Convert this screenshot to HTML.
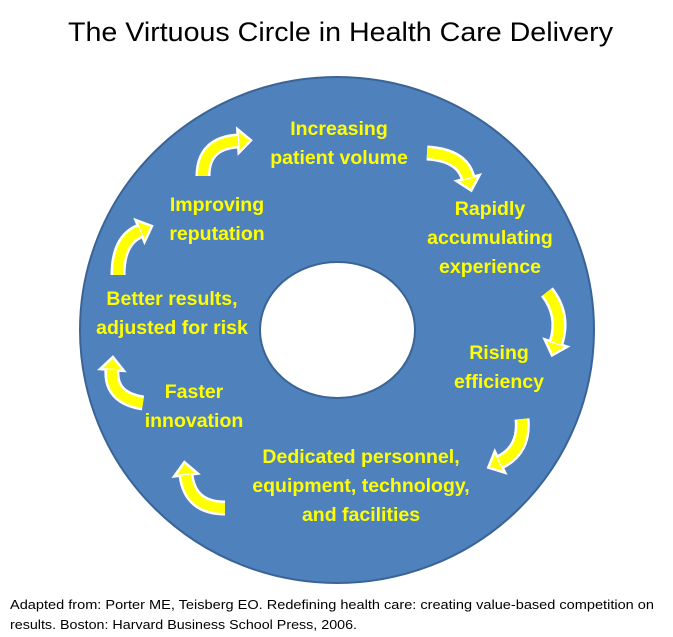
<!DOCTYPE html>
<html><head><meta charset="utf-8"><style>
html,body{margin:0;padding:0;background:#fff;}
svg{display:block;}
.t{font-family:"Liberation Sans",sans-serif;font-weight:bold;font-size:19.5px;fill:#ffff00;text-anchor:middle;}
</style></head><body>
<svg id="s" width="673" height="637" viewBox="0 0 673 637" xmlns="http://www.w3.org/2000/svg">
<text x="68" y="41" font-family="Liberation Sans, sans-serif" font-size="27" fill="#000" textLength="545" lengthAdjust="spacingAndGlyphs">The Virtuous Circle in Health Care Delivery</text>
<ellipse cx="337" cy="330" rx="257" ry="253" fill="#4f81bd" stroke="#3a6496" stroke-width="2"/>
<ellipse cx="337.5" cy="330" rx="77.5" ry="68" fill="#fff" stroke="#3a6496" stroke-width="2"/>
<g class="t">
<text x="339" y="135">Increasing</text>
<text x="339" y="164">patient volume</text>
<text x="490" y="215">Rapidly</text>
<text x="490" y="244">accumulating</text>
<text x="490" y="273">experience</text>
<text x="499" y="359">Rising</text>
<text x="499" y="388">efficiency</text>
<text x="361" y="463">Dedicated personnel,</text>
<text x="361" y="492">equipment, technology,</text>
<text x="361" y="521">and facilities</text>
<text x="194" y="398">Faster</text>
<text x="194" y="427">innovation</text>
<text x="172" y="305">Better results,</text>
<text x="172" y="334">adjusted for risk</text>
<text x="217" y="211">Improving</text>
<text x="217" y="240">reputation</text>
</g>
<g id="arrows"></g>
<text x="10" y="609" font-family="Liberation Sans, sans-serif" font-size="13" fill="#000" textLength="644" lengthAdjust="spacingAndGlyphs">Adapted from: Porter ME, Teisberg EO. Redefining health care: creating value-based competition on</text>
<text x="10" y="629" font-family="Liberation Sans, sans-serif" font-size="13" fill="#000" textLength="347" lengthAdjust="spacingAndGlyphs">results. Boston: Harvard Business School Press, 2006.</text>
</svg>
<script>
var A=[[203,176,203,143,238,141],[427,153,462,155,468,178],[547,292,565,315,556,343],[522,419,525,450,500,462],[225,508,190,508,186,475],[143,403,110,398,112,370],[118,275,118,240,140,231]];
var g=document.getElementById('arrows'),h='';
A.forEach(function(a){
 var d='M'+a[0]+' '+a[1]+' Q'+a[2]+' '+a[3]+' '+a[4]+' '+a[5];
 var dx=a[4]-a[2],dy=a[5]-a[3],L=Math.hypot(dx,dy);dx/=L;dy/=L;
 var px=-dy,py=dx,w=12,l=13;
 var pts=[[a[4]+px*w,a[5]+py*w],[a[4]+dx*l,a[5]+dy*l],[a[4]-px*w,a[5]-py*w]].map(function(p){return p[0].toFixed(1)+','+p[1].toFixed(1)}).join(' ');
 h+='<path d="'+d+'" fill="none" stroke="#fff" stroke-width="15"/>';
 h+='<polygon points="'+pts+'" fill="#ffff00" stroke="#fff" stroke-width="2.5" stroke-linejoin="miter"/>';
 h+='<path d="'+d+'" fill="none" stroke="#ffff00" stroke-width="10"/>';
});
g.innerHTML=h;
</script>
</body></html>
